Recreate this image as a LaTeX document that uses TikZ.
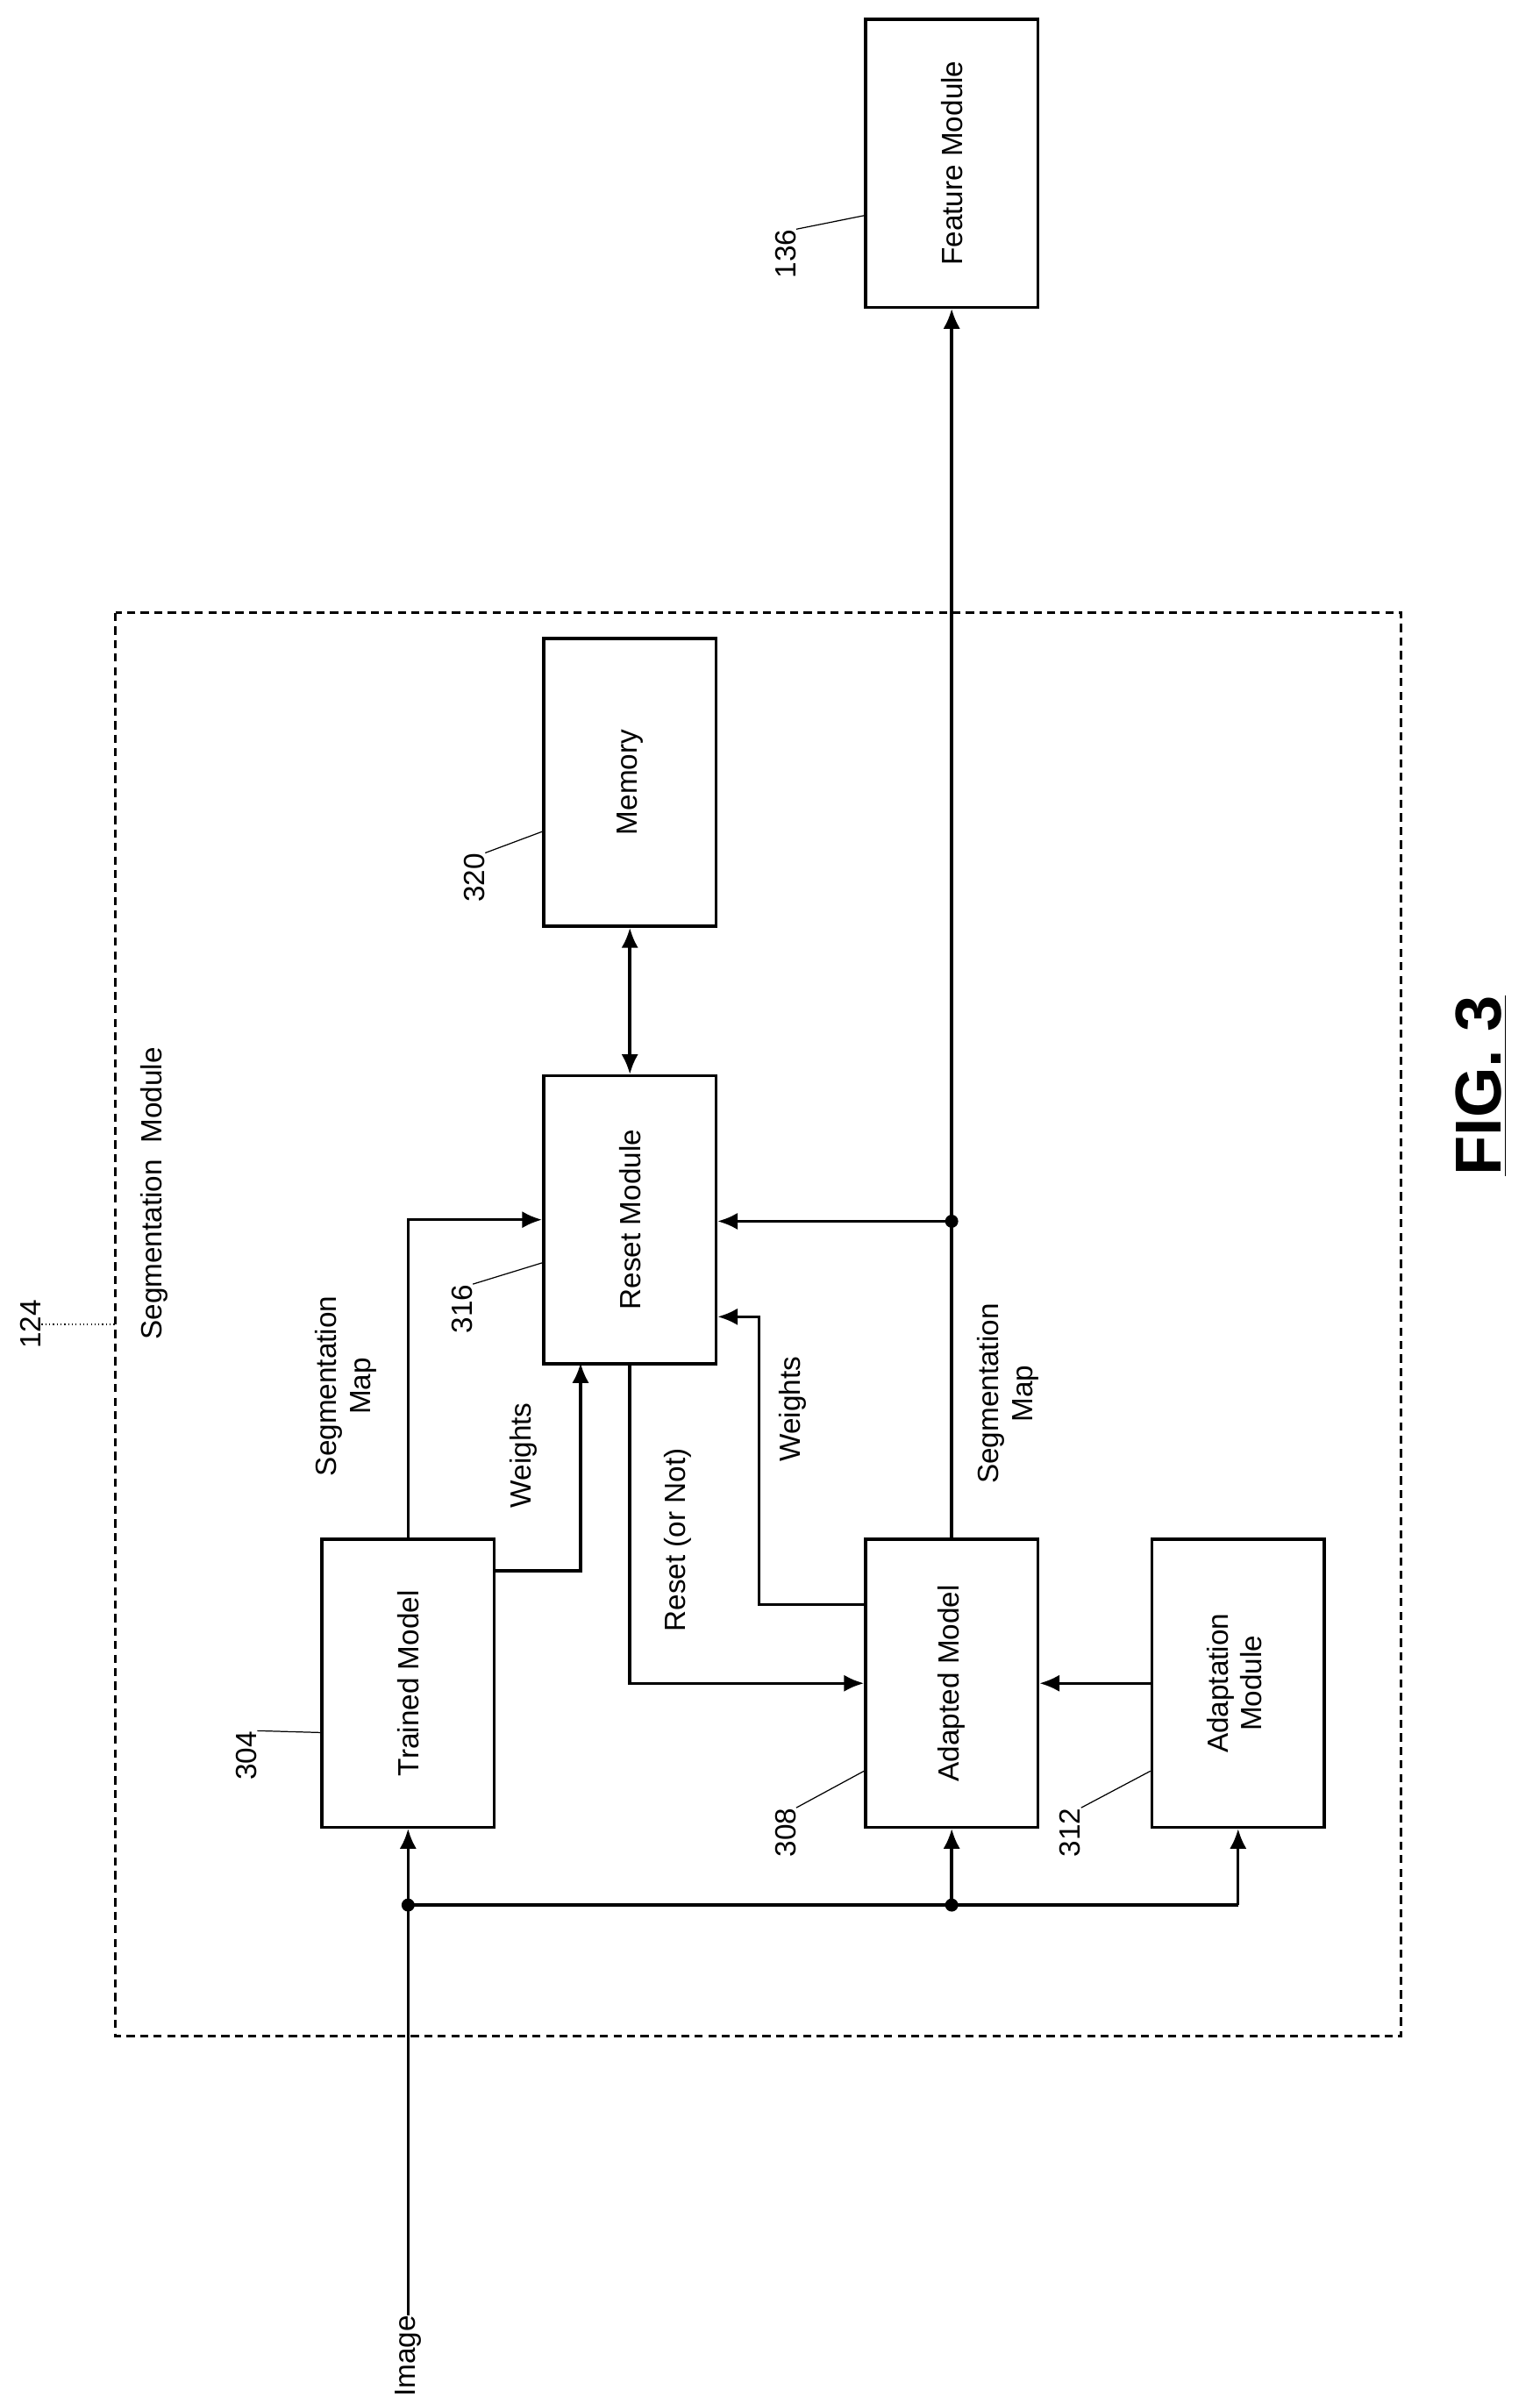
\documentclass[tikz,border=0pt]{standalone}
\usepackage{fontspec}
\setmainfont{Liberation Sans}
\usetikzlibrary{calc}
\usetikzlibrary{arrows.meta}
\tikzset{>=latex}
\tikzset{block/.style = {draw,line width=1.1pt,minimum width=2.24cm,minimum height=3.74cm,inner sep=0pt}}
\tikzset{link/.style = {->,line width=1.1pt,>={Latex[length=2.6mm,width=2.2mm]}}}
\tikzset{lbl/.style = {inner sep=0pt}}
\tikzset{dot/.style = {circle,fill,inner sep=0pt,minimum size=1.7mm}}

\begin{document}
\begin{tikzpicture}[x=0.02cm,y=-0.02cm,font=\fontsize{10.8}{12.5}\selectfont]
            \useasboundingbox (0,0) rectangle (1000,1561);

            % Outer module
            \draw[densely dashed,line width=1pt] (75,398) rectangle (910,1322);
            \node[lbl] (segm) at (100,775) {\rotatebox{90}{Segmentation\ \ Module}};
            \node[lbl] (n124) at (20,860) {\rotatebox{90}{124}};
            \draw[densely dotted] (n124.east) -- (75,860);

            % Blocks
            \node[block] (fm) at (618,106) {\rotatebox{90}{Feature Module}};
            \node[block] (mem) at (409,508) {\rotatebox{90}{Memory}};
            \node[block] (rm) at (409,792) {\rotatebox{90}{Reset Module}};
            \node[block] (tm) at (265,1093) {\rotatebox{90}{Trained Model}};
            \node[block] (am) at (618,1093) {\rotatebox{90}{Adapted Model}};
            \node[block] (ad) at (804,1093) {\rotatebox{90}{\begin{tabular}{@{}c@{}}Adaptation\\Module\end{tabular}}};

            % Reference numbers
            \node[lbl] (n304) at (160,1140) {\rotatebox{90}{304}};
            \draw (n304.north east) -- (tm.west |- 0,1125);
            \node[lbl] (n308) at (510,1190) {\rotatebox{90}{308}};
            \draw (n308.north east) -- (am.west |- 0,1150);
            \node[lbl] (n312) at (695,1190) {\rotatebox{90}{312}};
            \draw (n312.north east) -- (ad.west |- 0,1150);
            \node[lbl] (n316) at (300,850) {\rotatebox{90}{316}};
            \draw (n316.north east) -- (rm.west |- 0,820);
            \node[lbl] (n320) at (308,570) {\rotatebox{90}{320}};
            \draw (n320.north east) -- (mem.west |- 0,540);
            \node[lbl] (n136) at (510,165) {\rotatebox{90}{136}};
            \draw (n136.north east) -- (fm.west |- 0,140);

            % Input
            \node[lbl] (img) at (265,1530) {\rotatebox{90}{Image}};
            \coordinate (j1) at (265,1237);
            \coordinate (j2) at (618,1237);
            \draw[link] (img.north -| tm.south) -- (tm.south);
            \draw[line width=1.1pt] (j1) -- (j1 -| ad.south);
            \draw[link] (j2) -- (am.south);
            \draw[link] (j1 -| ad.south) -- (ad.south);
            \node[dot] at (j1) {};
            \node[dot] at (j2) {};

            % Edges
            \draw[link] (tm.north) |- (rm.west);
            \node[lbl] at (225,900) {\rotatebox{90}{\begin{tabular}{@{}c@{}}Segmentation\\Map\end{tabular}}};
            \draw[link] ([yshift=1.46cm]tm.east) -| (377,885);
            \node[lbl] at (340,945) {\rotatebox{90}{Weights}};
            \draw[link] (rm.south) |- (am.west);
            \node[lbl] at (440,1000) {\rotatebox{90}{Reset (or Not)}};
            \draw[link] ([yshift=1.02cm]am.west) -| (493,855) -- (rm.east |- 0,855);
            \node[lbl] at (515,915) {\rotatebox{90}{Weights}};
            \coordinate (j3) at (618,793);
            \draw[link] (am.north) -- (fm.south);
            \draw[link] (j3) -- (rm.east |- j3);
            \node[dot] at (j3) {};
            \node[lbl] at (655,905) {\rotatebox{90}{\begin{tabular}{@{}c@{}}Segmentation\\Map\end{tabular}}};
            \draw[link] (ad.west) -- (am.east);
            \draw[link,<->] (mem.south) -- (rm.north);

            % Figure label
            \node[lbl] (fig) at (962,705) {\rotatebox{90}{\fontsize{24}{28}\selectfont\bfseries\underline{FIG. 3}}};
\end{tikzpicture}
\end{document}
